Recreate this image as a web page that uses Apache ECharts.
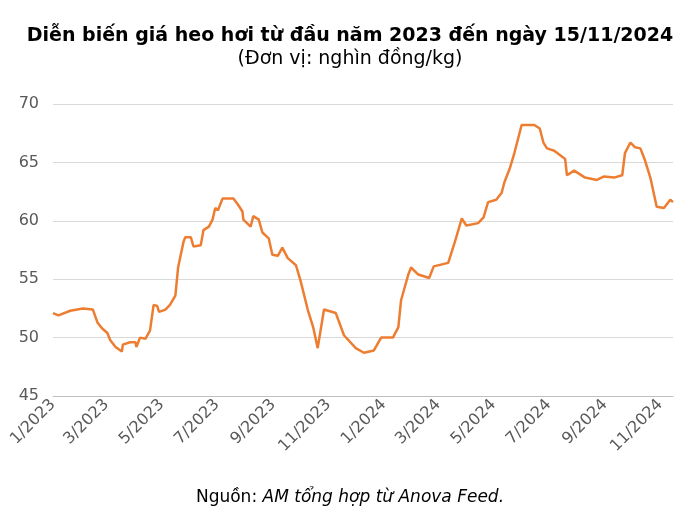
<!DOCTYPE html>
<html>
<head>
<meta charset="utf-8">
<script src="https://cdn.jsdelivr.net/npm/echarts@6/dist/echarts.min.js"></script>
<style>html,body{margin:0;padding:0;background:#fff}#chart{width:700px;height:527px}</style>
</head>
<body>
<div id="chart"></div>
<script>
// giá heo hơi (nghìn đồng/kg)
const dates = [
  '2023-01-01','2023-01-07','2023-01-20','2023-02-03','2023-02-14','2023-02-19','2023-02-24','2023-03-02',
  '2023-03-05','2023-03-11','2023-03-18','2023-03-19','2023-03-27','2023-04-02','2023-04-03','2023-04-07',
  '2023-04-13','2023-04-18','2023-04-22','2023-04-26','2023-04-28','2023-05-05','2023-05-10','2023-05-16',
  '2023-05-19','2023-05-25','2023-05-27','2023-06-02','2023-06-05','2023-06-13','2023-06-16','2023-06-22',
  '2023-06-26','2023-06-29','2023-07-02','2023-07-07','2023-07-19','2023-07-24','2023-07-29','2023-07-30',
  '2023-08-07','2023-08-10','2023-08-16','2023-08-20','2023-08-27','2023-08-31','2023-09-06','2023-09-11',
  '2023-09-17','2023-09-26','2023-10-01','2023-10-09','2023-10-15','2023-10-20','2023-10-27','2023-11-09',
  '2023-11-18','2023-12-01','2023-12-10','2023-12-21','2023-12-29','2024-01-11','2024-01-17','2024-01-20',
  '2024-01-28','2024-01-31','2024-02-08','2024-02-20','2024-02-25','2024-03-12','2024-03-19','2024-03-27',
  '2024-04-01','2024-04-14','2024-04-20','2024-04-25','2024-05-04','2024-05-10','2024-05-13','2024-05-19',
  '2024-05-24','2024-05-29','2024-06-01','2024-06-15','2024-06-21','2024-06-25','2024-06-29','2024-07-07',
  '2024-07-19','2024-07-21','2024-07-29','2024-08-10','2024-08-23','2024-08-31','2024-09-11','2024-09-20',
  '2024-09-23','2024-09-29','2024-10-04','2024-10-10','2024-10-15','2024-10-21','2024-10-28','2024-11-05',
  '2024-11-12','2024-11-15'
];
const prices = [
  52.1,51.9,52.3,52.5,52.4,51.3,50.8,50.4,
  49.8,49.2,48.8,49.4,49.6,49.6,49.2,50.0,
  49.9,50.6,52.8,52.7,52.2,52.4,52.8,53.6,
  56.0,58.2,58.6,58.6,57.8,57.9,59.2,59.5,
  60.1,61.1,60.9,61.9,61.9,61.4,60.8,60.1,
  59.5,60.4,60.1,59.0,58.5,57.1,57.0,57.7,
  56.8,56.2,54.9,52.4,50.9,49.1,52.4,52.1,
  50.2,49.1,48.7,48.9,50.0,50.0,50.9,53.2,
  55.4,56.0,55.4,55.1,56.1,56.4,58.1,60.2,
  59.6,59.8,60.3,61.6,61.8,62.4,63.3,64.5,
  65.8,67.3,68.2,68.2,67.9,66.7,66.2,66.0,
  65.3,63.9,64.3,63.7,63.5,63.8,63.7,63.9,
  65.8,66.7,66.3,66.2,65.2,63.7,61.2,61.1,
  61.8,61.6
];
const tickMonths = ['2023-01-01','2023-03-01','2023-05-01','2023-07-01','2023-09-01','2023-11-01',
  '2024-01-01','2024-03-01','2024-05-01','2024-07-01','2024-09-01','2024-11-01'];

const ts = d => Date.parse(d + 'T00:00:00Z');
const font = 'Verdana, "DejaVu Sans", sans-serif';
const chart = echarts.init(document.getElementById('chart'));
chart.setOption({
  animation: false,
  title: {
    text: 'Diễn biến giá heo hơi từ đầu năm 2023 đến ngày 15/11/2024',
    subtext: '(Đơn vị: nghìn đồng/kg)',
    left: 'center', top: 22, itemGap: 4,
    textStyle: { fontFamily: font, fontSize: 19, fontWeight: 'bold', color: '#000' },
    subtextStyle: { fontFamily: font, fontSize: 19, color: '#000' }
  },
  graphic: [{
    type: 'text', left: 'center', top: 489,
    style: {
      text: 'Nguồn: {i|AM tổng hợp từ Anova Feed.}',
      font: '17px ' + font, fill: '#000',
      rich: { i: { fontStyle: 'italic', fontSize: 17, fontFamily: font } }
    }
  }],
  grid: { left: 53, right: 27, top: 104, bottom: 131 },
  xAxis: {
    type: 'value',
    min: ts('2023-01-01'), max: ts('2024-11-15'),
    axisLine: { lineStyle: { color: '#bfbfbf' } },
    axisTick: { show: false },
    splitLine: { show: false },
    axisLabel: {
      customValues: tickMonths.map(ts),
      rotate: 45, color: '#595959', fontFamily: font, fontSize: 16, margin: 6,
      formatter: v => { const d = new Date(v); return (d.getUTCMonth() + 1) + '/' + d.getUTCFullYear(); }
    }
  },
  yAxis: {
    type: 'value', min: 45, max: 70, interval: 5,
    axisLine: { show: false }, axisTick: { show: false },
    splitLine: { lineStyle: { color: '#d9d9d9' } },
    axisLabel: { color: '#595959', fontFamily: font, fontSize: 16, margin: 14 }
  },
  series: [{
    type: 'line', showSymbol: false,
    data: dates.map((d, i) => [ts(d), prices[i]]),
    lineStyle: { color: '#ED7D31', width: 2.5 },
    itemStyle: { color: '#ED7D31' }
  }]
});
</script>
</body>
</html>
